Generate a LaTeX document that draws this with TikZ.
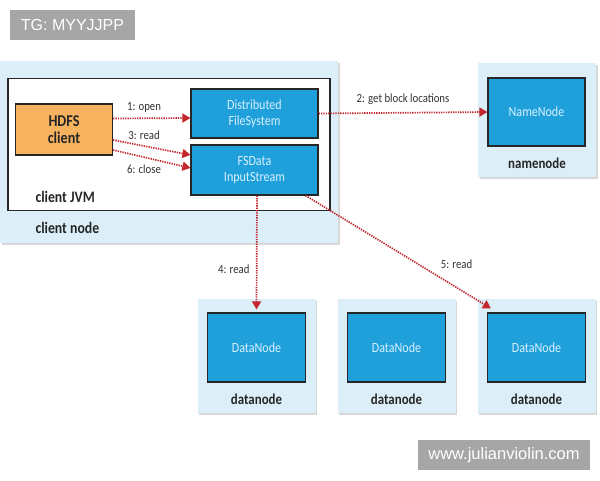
\documentclass[tikz,border=0pt]{standalone}
\usepackage{fontspec}
\setmainfont{Carlito}[FakeStretch=0.86]
\newfontfamily\markfont{Liberation Sans}
\usepackage{tikz}
\usetikzlibrary{arrows.meta,positioning,shadows}
\definecolor{hostbg}{HTML}{DCEEF8}
\definecolor{procblue}{HTML}{1FA0DA}
\definecolor{proctext}{HTML}{D8F0FF}
\definecolor{clientorange}{HTML}{F6B25E}
\definecolor{callred}{HTML}{C4262E}
\definecolor{markgray}{HTML}{A6A6A6}

\begin{document}
\begin{tikzpicture}[x=1pt, y=-1pt,
    host/.style={fill=hostbg, draw=none, drop shadow={shadow xshift=1.5pt, shadow yshift=-1.5pt, fill=black!30, opacity=0.5}},
    proc/.style={fill=procblue, draw=black!85, line width=1.2pt, text=proctext, align=center, font=\fontsize{14}{16}\selectfont},
    hostlabel/.style={font=\fontsize{16}{16}\selectfont\bfseries, text=black!85},
    call/.style={draw=callred, line width=1.7pt, dash pattern=on 1.3pt off 1.1pt, -{Triangle[width=9pt,length=8pt]}},
    calllabel/.style={font=\fontsize{12.5}{12.5}\selectfont, text=black!80},
    wmark/.style={fill=markgray, text=white, font=\markfont\fontsize{16}{16}\selectfont, inner sep=0pt}]
    \useasboundingbox (0,0) rectangle (600,480);

    % Watermarks
    \node[wmark, minimum width=125pt, minimum height=30pt] (tg) at (72.5,25) {TG: MYYJJPP};
    \node[wmark, minimum width=172pt, minimum height=30pt, font=\markfont\fontsize{16.5}{16.5}\selectfont] (web) at (504,455) {www.julianviolin.com};

    % Client side
    \node[host, minimum width=338pt, minimum height=182pt] (clienthost) at (169,152) {};
    \node[fill=white, draw=black!85, line width=1.2pt, minimum width=322pt, minimum height=132pt] (jvm) at (169,144.5) {};
    \node[hostlabel, anchor=west] (jvmlabel) at (32,197) {client JVM};
    \node[hostlabel, anchor=west] (hostlabel) at (32,228) {client node};
    \node[fill=clientorange, draw=black!85, line width=1.2pt, minimum width=97pt, minimum height=51pt, align=center, font=\fontsize{16.5}{17}\selectfont\bfseries, text=black!85] (hdfs) at (64,129.5) {HDFS\\client};
    \node[proc, minimum width=127pt, minimum height=49pt] (dfs) at (254.5,113.5) {Distributed\\FileSystem};
    \node[proc, minimum width=127pt, minimum height=50pt] (fsd) at (254.5,170) {FSData\\InputStream};

    % Namenode
    \node[host, minimum width=118pt, minimum height=114pt] (nnhost) at (537,120) {};
    \node[proc, minimum width=97pt, minimum height=68pt] (nn) at (536.5,112) {NameNode};
    \node[hostlabel, font=\fontsize{15}{15}\selectfont\bfseries] (nnlabel) at (537,163) {namenode};

    % Datanodes
    \foreach \i/\x in {1/256.5, 2/396.5, 3/536.5} {
      \node[host, minimum width=118pt, minimum height=114pt] (dnhost\i) at (\x,356) {};
      \node[proc, minimum width=98pt, minimum height=69pt] (dn\i) at (\x,347.5) {DataNode};
      \node[hostlabel, font=\fontsize{15}{15}\selectfont\bfseries] (dnlabel\i) at (\x,399) {datanode};
    }

    % Calls
    \draw[call] ([yshift=11pt]hdfs.east) -- node[calllabel, above=2pt, pos=0.4] {1: open} ([yshift=-4.5pt]dfs.west);
    \draw[call] ([yshift=-10.5pt]hdfs.east) -- node[calllabel, above=2pt, pos=0.4] {3: read} ([yshift=15pt]fsd.west);
    \draw[call] ([yshift=-20.5pt]hdfs.east) -- node[calllabel, below=3pt, pos=0.4] {6: close} ([yshift=2pt]fsd.west);
    \draw[call] (dfs.east) -- node[calllabel, above=4pt] {2: get block locations} (nn.west);
    \draw[call] ([xshift=2.5pt]fsd.south) -- node[calllabel, left=3pt, pos=0.65] {4: read} ([yshift=3pt]dn1.north);
    \draw[call] ([xshift=-13pt]fsd.south east) -- node[calllabel, above right=2pt, pos=0.7] {5: read} ([xshift=4pt,yshift=4pt]dn3.north west);
\end{tikzpicture}
\end{document}
